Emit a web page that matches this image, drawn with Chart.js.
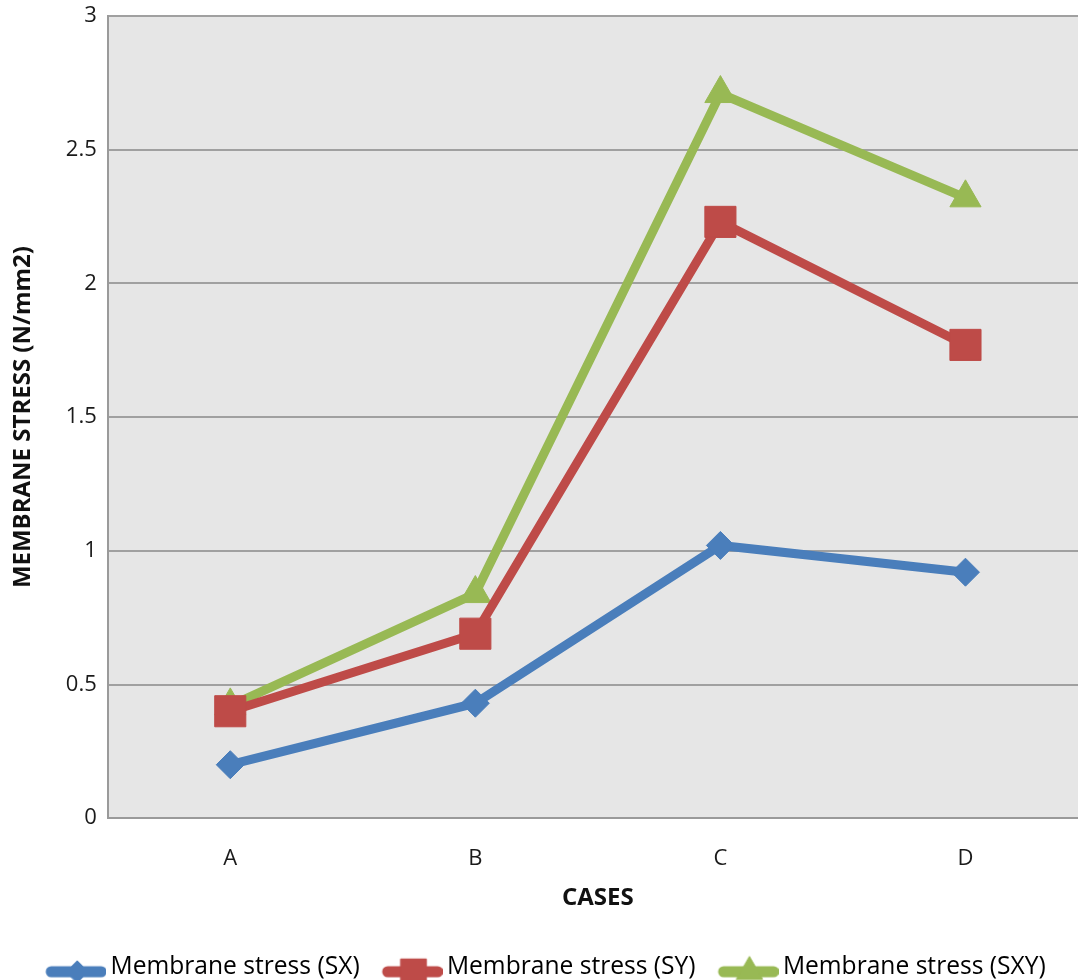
<!DOCTYPE html>
<html>
<head>
<meta charset="utf-8">
<script src="https://cdn.jsdelivr.net/npm/chart.js@4.4.1/dist/chart.umd.min.js"></script>
<style>
  html, body { margin: 0; padding: 0; background: #ffffff; overflow: hidden; }
  canvas { display: block; }
</style>
</head>
<body>
<canvas id="chart" width="1090" height="980"></canvas>
<script>
// Load cases along the x axis
const cases = ['A', 'B', 'C', 'D'];

// Membrane stress per case (N/mm2)
const stressSX  = [0.20, 0.43, 1.02, 0.92];
const stressSY  = [0.40, 0.69, 2.23, 1.77];
const stressSXY = [0.42, 0.84, 2.71, 2.32];

const seriesNames = ['Membrane stress (SX)', 'Membrane stress (SY)', 'Membrane stress (SXY)'];

// y-axis tick values
const yTicks = [0, 0.5, 1, 1.5, 2, 2.5, 3];

const FONT = "'Open Sans', 'Liberation Sans', sans-serif";
const colors = ['#4a7ebb', '#be4b48', '#98b954'];
const styles = ['rectRot', 'rect', 'triangle'];
const radii = [14, 22, 18];
const legendRadii = [11, 18, 15];

// Legend swatch: a short thick line with the series marker on it
const SWATCH_BOX = 50;
function makeSwatch(color, style, radius) {
  const c = document.createElement('canvas');
  c.width = 66; c.height = 44;
  const ctx = c.getContext('2d');
  const cy = 27;
  ctx.strokeStyle = color;
  ctx.lineWidth = 11;
  ctx.lineCap = 'round';
  ctx.beginPath();
  ctx.moveTo(11, cy);
  ctx.lineTo(61, cy);
  ctx.stroke();
  ctx.fillStyle = color;
  ctx.strokeStyle = color;
  ctx.lineWidth = 1;
  Chart.helpers.drawPoint(ctx, { pointStyle: style, radius, borderWidth: 1 }, 37, cy);
  ctx.fill();
  return c;
}

const plotBackground = {
  id: 'plotBackground',
  beforeDraw(chart) {
    const { ctx, chartArea: a } = chart;
    ctx.save();
    ctx.fillStyle = '#e6e6e6';
    ctx.fillRect(a.left, a.top, a.right - a.left, a.bottom - a.top);
    ctx.restore();
  }
};

const values = [stressSX, stressSY, stressSXY];
const datasets = values.map((v, i) => ({
  label: seriesNames[i],
  data: v,
  borderColor: colors[i],
  backgroundColor: colors[i],
  borderWidth: 9,
  pointStyle: styles[i],
  pointRadius: radii[i],
  pointHoverRadius: radii[i],
  pointBackgroundColor: colors[i],
  pointBorderColor: colors[i],
  pointBorderWidth: 1,
  tension: 0,
  fill: false
}));

new Chart(document.getElementById('chart'), {
  type: 'line',
  data: { labels: cases, datasets },
  plugins: [plotBackground],
  options: {
    responsive: false,
    animation: false,
    layout: { autoPadding: false, padding: { top: 16, left: 6, right: 2, bottom: -9 } },
    plugins: {
      tooltip: { enabled: false },
      legend: {
        position: 'bottom',
        labels: {
          usePointStyle: true,
          pointStyleWidth: SWATCH_BOX,
          padding: 25,
          color: '#1a1a1a',
          font: { family: FONT, size: 24.6 },
          generateLabels(chart) {
            return chart.data.datasets.map((ds, i) => ({
              text: ds.label,
              pointStyle: makeSwatch(colors[i], styles[i], legendRadii[i]),
              fillStyle: colors[i],
              strokeStyle: colors[i],
              lineWidth: 0,
              hidden: false,
              datasetIndex: i
            }));
          }
        }
      }
    },
    scales: {
      x: {
        offset: true,
        grid: { display: false, drawTicks: false },
        border: { display: true, color: '#9a9a9a', width: 2 },
        ticks: { color: '#1a1a1a', padding: 27, font: { family: FONT, size: 22 } },
        title: {
          display: true, text: 'CASES', color: '#111',
          font: { family: FONT, size: 24, weight: 'bold' },
          padding: { top: -15, bottom: 17 }
        }
      },
      y: {
        min: 0, max: 3,
        afterBuildTicks(scale) { scale.ticks = yTicks.map(v => ({ value: v })); },
        grid: { color: '#a0a0a0', lineWidth: 2, drawTicks: false },
        border: { display: true, color: '#9a9a9a', width: 2 },
        ticks: {
          color: '#1a1a1a', padding: 11,
          // compact line height so the top label does not push the plot down
          font: { family: FONT, size: 22, lineHeight: 0.45 },
          callback: v => String(v)
        },
        title: {
          display: true, text: 'MEMBRANE STRESS (N/mm2)', color: '#111',
          font: { family: FONT, size: 24, weight: 'bold' },
          padding: { top: 3, bottom: 17 }
        }
      }
    }
  }
});
</script>
</body>
</html>
